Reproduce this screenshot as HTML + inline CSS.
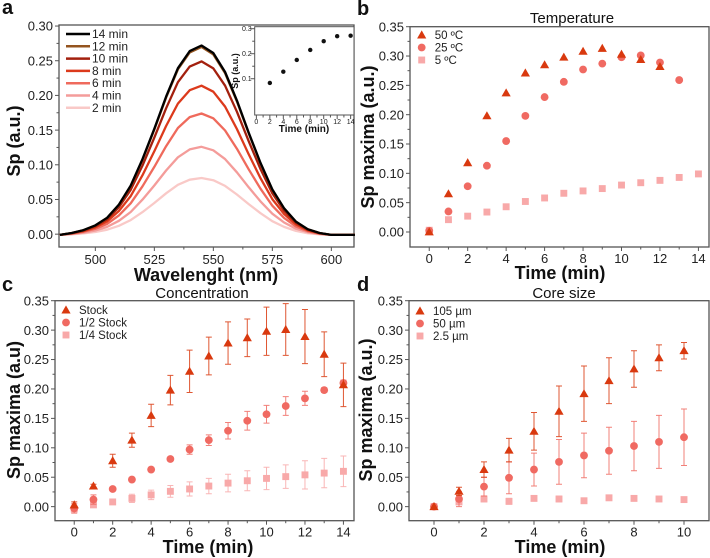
<!DOCTYPE html>
<html><head><meta charset="utf-8"><style>
body{margin:0;background:#fff;}
svg{display:block;font-family:"Liberation Sans",Arial,sans-serif;}
</style></head><body>
<svg id="fig" width="710" height="558" viewBox="0 0 710 558" xmlns="http://www.w3.org/2000/svg"></svg>
<script>
// ---- Panel a data ----
const aTimes = ["14 min","12 min","10 min","8 min","6 min","4 min","2 min"];
const aPeaks = [0.273,0.271,0.250,0.215,0.175,0.127,0.082];
const aWave = [485,490,495,500,505,510,515,520,525,530,535,540,545,550,555,560,565,570,575,580,585,590,595,600,605,610];
const aProfile = [0.0,0.01,0.025,0.05,0.09,0.16,0.26,0.40,0.56,0.73,0.88,0.97,1.0,0.96,0.86,0.71,0.54,0.38,0.24,0.14,0.07,0.03,0.01,0.0,0.0,0.0];
const aXTicks = [500,525,550,575,600];
const aYTicks = [0.00,0.05,0.10,0.15,0.20,0.25,0.30];
const insetT = [2,4,6,8,10,12,14];
const insetV = [0.083,0.128,0.175,0.215,0.250,0.270,0.272];
// ---- Panel b data ----
const bT50 = [0,1,2,3,4,5,6,7,8,9,10,11,12];
const bV50 = [0,0.065,0.118,0.198,0.237,0.271,0.285,0.298,0.308,0.313,0.303,0.294,0.282];
const bT25 = [0,1,2,3,4,5,6,7,8,9,10,11,12,13];
const bV25 = [0.002,0.035,0.078,0.113,0.155,0.198,0.230,0.256,0.277,0.287,0.298,0.301,0.289,0.259];
const bT5 = [0,1,2,3,4,5,6,7,8,9,10,11,12,13,14];
const bV5 = [0.003,0.021,0.027,0.034,0.043,0.052,0.058,0.066,0.070,0.074,0.080,0.084,0.088,0.093,0.099];
// ---- Panel c data ----
const cT = [0,1,2,3,4,5,6,7,8,9,10,11,12,13,14];
const cStock = [0.003,0.035,0.078,0.113,0.155,0.198,0.230,0.256,0.278,0.287,0.298,0.301,0.289,0.259,0.207];
const cStockErr = [0.005,0.003,0.011,0.012,0.019,0.025,0.036,0.032,0.036,0.032,0.041,0.044,0.046,0.038,0.037];
const cHalf = [-0.003,0.012,0.030,0.046,0.063,0.081,0.097,0.113,0.129,0.146,0.157,0.171,0.184,0.198,0.210];
const cHalfErr = [0.008,0.008,0.002,0.003,0.003,0.003,0.008,0.009,0.014,0.016,0.015,0.016,0.012,0.004,0.005];
const cQuarter = [-0.004,0.003,0.008,0.014,0.020,0.026,0.030,0.035,0.040,0.044,0.048,0.051,0.054,0.057,0.060];
const cQuarterErr = [0.005,0.004,0.003,0.007,0.008,0.010,0.012,0.013,0.015,0.017,0.019,0.020,0.024,0.025,0.026];
// ---- Panel d data ----
const dT = [0,1,2,3,4,5,6,7,8,9,10];
const d105 = [0,0.026,0.063,0.096,0.128,0.162,0.192,0.214,0.234,0.253,0.265];
const d105Err = [0,0.007,0.013,0.020,0.032,0.043,0.047,0.039,0.031,0.022,0.014];
const d50 = [0,0.013,0.034,0.049,0.063,0.076,0.087,0.095,0.103,0.110,0.118];
const d50Err = [0,0.013,0.016,0.027,0.028,0.038,0.038,0.040,0.042,0.045,0.048];
const d25 = [0,0.008,0.013,0.009,0.014,0.013,0.010,0.015,0.014,0.013,0.012];
const d25Err = [0,0.004,0.005,0.005,0.004,0.005,0.002,0.004,0.002,0.004,0.003];
const spYTicks = [0.00,0.05,0.10,0.15,0.20,0.25,0.30,0.35];
const tTicks14 = [0,2,4,6,8,10,12,14];
const tTicks10 = [0,2,4,6,8,10];

const NS="http://www.w3.org/2000/svg";
const svg=document.getElementById('fig');
function mk(tag,attrs,parent,text){const e=document.createElementNS(NS,tag);for(const k in attrs)e.setAttribute(k,attrs[k]);if(text!==undefined)e.textContent=text;(parent||svg).appendChild(e);return e;}
const C1="#d9390f",C2="#f06a62",C3="#f8a9a9",AX="#555";

function axes(g,o){
  const sx=v=>o.l+(v-o.x[0])/(o.x[1]-o.x[0])*(o.r-o.l);
  const sy=v=>o.b-(v-o.y[0])/(o.y[1]-o.y[0])*(o.b-o.t);
  const box=mk('rect',{x:o.l,y:o.t,width:o.r-o.l,height:o.b-o.t,fill:'none',stroke:AX,'stroke-width':o.sw||1.3},g);
  
  o.xt.forEach((v,i)=>{const x=sx(v);
    mk('line',{x1:x,x2:x,y1:o.b,y2:o.b+4,stroke:AX,'stroke-width':1},g);
    const t=mk('text',{x:x,y:o.b+o.xlOff,'text-anchor':'middle','font-size':o.fs,fill:'#222'},g,o.xlab?o.xlab(v):v);
    
    if(i<o.xt.length-1){const xm=sx((v+o.xt[i+1])/2);mk('line',{x1:xm,x2:xm,y1:o.b,y2:o.b+2.5,stroke:AX,'stroke-width':1},g);}
  });
  o.yt.forEach((v,i)=>{const y=sy(v);
    mk('line',{x1:o.l,x2:o.l-4,y1:y,y2:y,stroke:AX,'stroke-width':1},g);
    const t=mk('text',{x:o.l-o.ylOff,y:y+o.fs*0.36,'text-anchor':'end','font-size':o.fs,fill:'#222'},g,o.ylab?o.ylab(v):v.toFixed(2));
    
    if(i<o.yt.length-1){const ym=sy((v+o.yt[i+1])/2);mk('line',{x1:o.l,x2:o.l-2.5,y1:ym,y2:ym,stroke:AX,'stroke-width':1},g);}
  });
  return {sx,sy};
}
function marker(g,type,x,y,col,s){
  let e;
  if(type==='tri'){e=mk('polygon',{points:`${x},${y-s} ${x-s},${y+s*0.75} ${x+s},${y+s*0.75}`,fill:col},g);}
  else if(type==='circ'){e=mk('circle',{cx:x,cy:y,r:s*0.85,fill:col},g);}
  else {e=mk('rect',{x:x-s*0.75,y:y-s*0.75,width:s*1.5,height:s*1.5,fill:col},g);}
  return e;
}
function series(g,ax,T,V,E,type,col,name){
  T.forEach((t,i)=>{const x=ax.sx(t),y=ax.sy(V[i]);
    if(E&&E[i]>0){const y1=ax.sy(V[i]-E[i]),y2=ax.sy(V[i]+E[i]);
      const eb=mk('path',{d:`M${x},${y1}V${y2}M${x-3},${y1}H${x+3}M${x-3},${y2}H${x+3}`,stroke:col,'stroke-width':1,fill:'none',opacity:0.85},g);
      }
    const m=marker(g,type,x,y,col,4.6);
    
  });
}
function legend(g,x,y,items,dy){
  items.forEach((it,i)=>{const yy=y+i*dy;
    const m=marker(g,it[0],x,yy,it[1],4.6);
    const t=mk('text',{x:x+13,y:yy+4,'font-size':11.5,fill:'#222'},g,it[2]);
    });
}
function txt(g,x,y,s,attrs,name){const t=mk('text',Object.assign({x:x,y:y,fill:'#111'},attrs),g,s);return t;}

// ===== Panel a =====
let g=mk('g',{});
txt(g,2,14,'a',{'font-size':20,'font-weight':'bold'},'panel-label-a');
let ax=axes(g,{l:59,r:354,t:25,b:247,x:[484.6,609.6],y:[-0.0185,0.3015],xt:aXTicks,yt:aYTicks,fs:13,xlOff:17,ylOff:6});
const aCols=["#000000","#94541f","#a3200e","#dc3a1c","#ef6a5c","#f49c9a","#f9c9c7"];
for(let k=aPeaks.length-1;k>=0;k--){
  const pts=aWave.map((w,i)=>`${ax.sx(w).toFixed(1)},${ax.sy(aPeaks[k]*aProfile[i]-0.001).toFixed(1)}`).join(' ');
  const p=mk('polyline',{points:pts,fill:'none',stroke:aCols[k],'stroke-width':2.3,'stroke-linejoin':'round'},g);
  
}
aTimes.forEach((s,i)=>{const y=34+i*12.3;
  const l=mk('line',{x1:66,x2:90,y1:y,y2:y,stroke:aCols[i],'stroke-width':2.5},g);
  txt(g,92,y+4,s,{'font-size':12,fill:'#222'},'legend-entry');});
txt(g,20,141,'Sp (a.u.)',{'font-size':18,'font-weight':'bold',transform:'rotate(-90 20 141)','text-anchor':'middle'},'y-axis-title');
txt(g,206,281,'Wavelenght (nm)',{'font-size':18,'font-weight':'bold','text-anchor':'middle'},'x-axis-title');
let gi=mk('g',{},g);
mk('rect',{x:254.7,y:26.7,width:99.3,height:88.3,fill:'#fff'},gi);
let ai=axes(gi,{l:254.7,r:354,t:26.7,b:115,x:[-0.25,14.5],y:[-0.045,0.308],xt:[0,2,4,6,8,10,12,14],yt:[0.1,0.2,0.3],fs:7,xlOff:9,ylOff:3,sw:1,ylab:v=>v.toFixed(1)});
insetT.forEach((t,i)=>{const c=mk('circle',{cx:ai.sx(t),cy:ai.sy(insetV[i]),r:2.2,fill:'#111'},gi);});
txt(gi,304,132,'Time (min)',{'font-size':10,'font-weight':'bold','text-anchor':'middle'},'inset-x-title');
txt(gi,238,71,'Sp (a.u.)',{'font-size':9,'font-weight':'bold',transform:'rotate(-90 238 71)','text-anchor':'middle'},'inset-y-title');

// ===== Panel b =====
g=mk('g',{});
txt(g,357,15,'b',{'font-size':20,'font-weight':'bold'},'panel-label-b');
txt(g,572,23,'Temperature',{'font-size':15,'text-anchor':'middle'},'chart-title');
ax=axes(g,{l:410,r:709,t:26.7,b:247,x:[-1,14.55],y:[-0.0256,0.35],xt:tTicks14,yt:spYTicks,fs:13,xlOff:16,ylOff:6});
series(g,ax,bT5,bV5,null,'sq',C3,'5C');
series(g,ax,bT25,bV25,null,'circ',C2,'25C');
series(g,ax,bT50,bV50,null,'tri',C1,'50C');
legend(g,421.7,35,[['tri',C1,'50 ºC'],['circ',C2,'25 ºC'],['sq',C3,'5 ºC']],12.5);
txt(g,374,137,'Sp maxima (a.u.)',{'font-size':18,'font-weight':'bold',transform:'rotate(-90 374 137)','text-anchor':'middle'},'y-axis-title');
txt(g,560,279,'Time (min)',{'font-size':18,'font-weight':'bold','text-anchor':'middle'},'x-axis-title');

// ===== Panel c =====
g=mk('g',{});
txt(g,2,291,'c',{'font-size':20,'font-weight':'bold'},'panel-label-c');
txt(g,202,298,'Concentration',{'font-size':15,'text-anchor':'middle'},'chart-title');
ax=axes(g,{l:55,r:354,t:300.7,b:520.7,x:[-1,14.55],y:[-0.0239,0.35],xt:tTicks14,yt:spYTicks,fs:13,xlOff:16,ylOff:6});
series(g,ax,cT,cQuarter,cQuarterErr,'sq',C3,'quarter-stock');
series(g,ax,cT,cHalf,cHalfErr,'circ',C2,'half-stock');
series(g,ax,cT,cStock,cStockErr,'tri',C1,'stock');
legend(g,66,310,[['tri',C1,'Stock'],['circ',C2,'1/2 Stock'],['sq',C3,'1/4 Stock']],12.5);
txt(g,20,410,'Sp maxima (a.u)',{'font-size':18,'font-weight':'bold',transform:'rotate(-90 20 410)','text-anchor':'middle'},'y-axis-title');
txt(g,208,553,'Time (min)',{'font-size':18,'font-weight':'bold','text-anchor':'middle'},'x-axis-title');

// ===== Panel d =====
g=mk('g',{});
txt(g,357,291,'d',{'font-size':20,'font-weight':'bold'},'panel-label-d');
txt(g,564,298,'Core size',{'font-size':15,'text-anchor':'middle'},'chart-title');
ax=axes(g,{l:409,r:709,t:300.7,b:520.7,x:[-1,11],y:[-0.0239,0.35],xt:tTicks10,yt:spYTicks,fs:13,xlOff:16,ylOff:6});
series(g,ax,dT,d25,d25Err,'sq',C3,'2-5um');
series(g,ax,dT,d50,d50Err,'circ',C2,'50um');
series(g,ax,dT,d105,d105Err,'tri',C1,'105um');
legend(g,420,311,[['tri',C1,'105 µm'],['circ',C2,'50 µm'],['sq',C3,'2.5 µm']],12.5);
txt(g,372,410,'Sp maxima (a.u.)',{'font-size':18,'font-weight':'bold',transform:'rotate(-90 372 410)','text-anchor':'middle'},'y-axis-title');
txt(g,560,553,'Time (min)',{'font-size':18,'font-weight':'bold','text-anchor':'middle'},'x-axis-title');
</script>
</body></html>
